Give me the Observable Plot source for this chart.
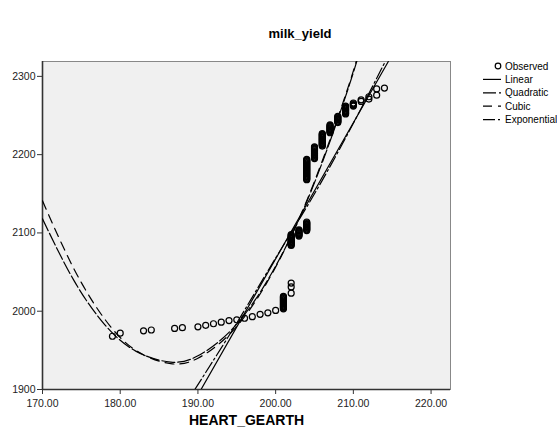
<!DOCTYPE html>
<html><head><meta charset="utf-8">
<script src="https://cdn.jsdelivr.net/npm/d3@7"></script>
<script src="https://cdn.jsdelivr.net/npm/@observablehq/plot@0.6"></script>
<style>
body{margin:0;background:#fff;font-family:Arial,"Liberation Sans",sans-serif;}
#wrap{position:relative;width:557px;height:433px;overflow:hidden;}
#title{position:absolute;left:240px;width:120px;top:26px;text-align:center;font-weight:bold;font-size:13px;color:#000;}
#legend{position:absolute;left:480px;top:58px;}
</style></head>
<body>
<div id="wrap">
<div id="chart"></div>
<div id="title">milk_yield</div>
<div id="legend"></div>
</div>
<script>
// Observed points (HEART_GEARTH, milk_yield)
const obsX = [179,180,183,184,187,188,190,191,192,193,194,195,196,197,198,199,200,
  201,201,201,201,201,201,201,201,201,201,201,201,201,201,201,201,201,
  202,202,202,
  202,202,202,202,202,202,202,202,202,202,202,202,202,202,202,
  203,203,203,203,203,203,203,203,203,
  204,204,204,204,204,204,204,204,204,204,204,204,
  204,204,204,204,204,204,204,204,204,204,204,204,204,204,204,204,204,204,204,204,204,204,204,204,204,204,204,
  205,205,205,205,205,205,205,205,205,205,205,205,205,205,205,205,
  206,206,206,206,206,206,206,206,206,206,206,206,206,206,206,206,206,
  207,207,207,207,207,207,207,207,207,207,207,
  208,208,208,208,208,208,208,208,208,
  209,209,209,209,209,209,209,209,209,209,209,
  210,210,210,210,210,
  211,211,212,212,213,213,214];
const obsY = [1968,1972,1975,1976,1978,1979,1980,1982,1984,1986,1988,1989,1991,1993,1996,1998,2001,
  2003,2004,2005,2006,2007,2008,2009,2010,2011,2012,2013,2014,2015,2016,2017,2018,2019,
  2023,2031,2036,
  2084,2085,2086,2087,2088,2089,2090,2091,2092,2093,2094,2095,2096,2097,2098,
  2096,2097,2098,2099,2100,2101,2102,2103,2104,
  2103,2104,2105,2106,2107,2108,2109,2110,2111,2112,2113,2114,
  2168,2169,2170,2171,2172,2173,2174,2175,2176,2177,2178,2179,2180,2181,2182,2183,2184,2185,2186,2187,2188,2189,2190,2191,2192,2193,2194,
  2195,2196,2197,2198,2199,2200,2201,2202,2203,2204,2205,2206,2207,2208,2209,2210,
  2211,2212,2213,2214,2215,2216,2217,2218,2219,2220,2221,2222,2223,2224,2225,2226,2227,
  2228,2229,2230,2231,2232,2233,2234,2235,2236,2237,2238,
  2241,2242,2243,2244,2245,2246,2247,2248,2249,
  2252,2253,2254,2255,2256,2257,2258,2259,2260,2261,2262,
  2262,2263,2264,2265,2266,
  2268,2270,2271,2274,2276,2284,2285];

// Fitted curves
const linX = [190.4, 214.5];
const linY = [1900, 2319];
const quadX = [170, 174, 178, 182, 186.5, 190, 194, 198, 202, 206, 210, 211.5];
const quadY = [2118, 2040, 1983, 1949, 1935, 1943, 1973, 2024, 2096, 2190, 2305, 2360];
const cubX = [170, 174, 178, 182, 186.5, 190, 194, 198, 202, 206, 210, 211.5];
const cubY = [2141, 2055, 1990, 1950, 1933, 1940, 1970, 2022, 2096, 2192, 2307, 2365];
const expX = [189.6, 195, 199.7, 205, 210, 214.1];
const expY = [1900, 1985, 2063, 2150, 2240, 2319];

const xTicks = [170, 180, 190, 200, 210, 220];
const yTicks = [1900, 2000, 2100, 2200, 2300];

const seriesNames = ["Observed", "Linear", "Quadratic", "Cubic", "Exponential"];
const dashes = {Linear: null, Quadratic: "13,3", Cubic: "9,6", Exponential: "12,3,2,3"};

const obs = obsX.map((x, i) => ({x, y: obsY[i]}));
const toRows = (xs, ys) => xs.map((x, i) => ({x, y: ys[i]}));
const lin = toRows(linX, linY), quad = toRows(quadX, quadY), cub = toRows(cubX, cubY), expo = toRows(expX, expY);

const chart = Plot.plot({
  width: 557, height: 433,
  marginLeft: 42, marginRight: 107, marginTop: 61, marginBottom: 44,
  style: {fontFamily: "Arial, 'Liberation Sans', sans-serif", fontSize: "10.5px", color: "#222", background: "transparent"},
  x: {domain: [170, 222.5], label: null},
  y: {domain: [1900, 2319], label: null},
  marks: [
    Plot.frame({fill: "#f0f0f0", stroke: "#888"}),
    Plot.axisX({ticks: xTicks, tickFormat: d => d.toFixed(2), tickSize: 5, tickPadding: 5, label: null, stroke: "#333"}),
    Plot.axisY({ticks: yTicks, tickFormat: d => String(d), tickSize: 5, tickPadding: 2, label: null, stroke: "#333"}),
    Plot.ruleX([170], {stroke: "#333", strokeWidth: 1.6}),
    Plot.ruleY([1900], {stroke: "#333", strokeWidth: 1.6}),
    Plot.line(quad, {x: "x", y: "y", curve: "natural", stroke: "#000", strokeWidth: 1.2, strokeDasharray: dashes.Quadratic, clip: true}),
    Plot.line(cub, {x: "x", y: "y", curve: "natural", stroke: "#000", strokeWidth: 1.2, strokeDasharray: dashes.Cubic, clip: true}),
    Plot.line(expo, {x: "x", y: "y", curve: "natural", stroke: "#000", strokeWidth: 1.2, strokeDasharray: dashes.Exponential, clip: true}),
    Plot.line(lin, {x: "x", y: "y", stroke: "#000", strokeWidth: 1.2, clip: true}),
    Plot.dot(obs, {x: "x", y: "y", r: 3, stroke: "#000", strokeWidth: 1.2, fill: "none"}),
    Plot.text(["HEART_GEARTH"], {frameAnchor: "bottom", dy: 35, fontWeight: "bold", fontSize: 14, fill: "#000"})
  ]
});
document.getElementById("chart").appendChild(chart);

// Legend
const ns = "http://www.w3.org/2000/svg";
const lg = document.createElementNS(ns, "svg");
lg.setAttribute("width", 77); lg.setAttribute("height", 70);
lg.style.fontFamily = "Arial, 'Liberation Sans', sans-serif";
lg.style.fontSize = "10px";
seriesNames.forEach((name, i) => {
  const cy = 8 + i * 13.4;
  if (name === "Observed") {
    const c = document.createElementNS(ns, "circle");
    c.setAttribute("cx", 18); c.setAttribute("cy", cy); c.setAttribute("r", 2.8);
    c.setAttribute("fill", "none"); c.setAttribute("stroke", "#000"); c.setAttribute("stroke-width", 1.2);
    lg.appendChild(c);
  } else {
    const l = document.createElementNS(ns, "line");
    l.setAttribute("x1", 3); l.setAttribute("x2", 21); l.setAttribute("y1", cy); l.setAttribute("y2", cy);
    l.setAttribute("stroke", "#000"); l.setAttribute("stroke-width", 1.2);
    if (dashes[name]) l.setAttribute("stroke-dasharray", dashes[name]);
    lg.appendChild(l);
  }
  const t = document.createElementNS(ns, "text");
  t.setAttribute("x", 25); t.setAttribute("y", cy); t.setAttribute("dy", "0.35em");
  t.textContent = name;
  lg.appendChild(t);
});
document.getElementById("legend").appendChild(lg);
</script>
</body></html>
